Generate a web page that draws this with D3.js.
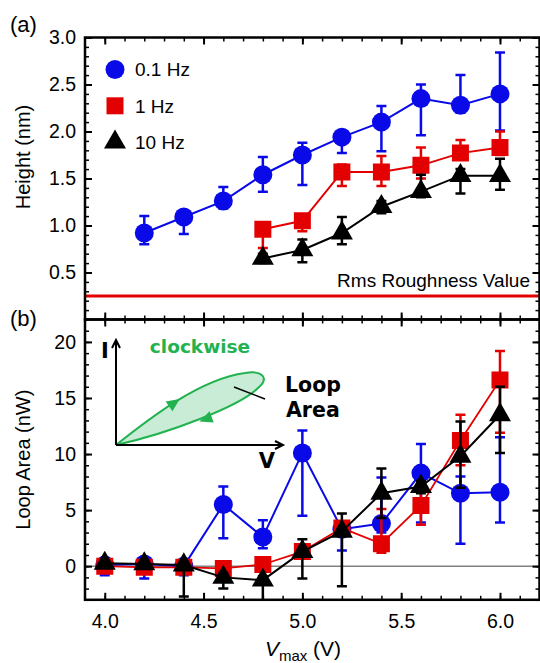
<!DOCTYPE html>
<html>
<head>
<meta charset="utf-8">
<script src="https://cdn.jsdelivr.net/npm/d3@7"></script>
<style>
  body { margin: 0; background: #fff; }
  svg { display: block; font-family: 'Liberation Sans', Arial, sans-serif; }
</style>
</head>
<body>
<svg id="chart" width="540" height="663"></svg>
<script>
// --- data ---
const vmax01Hz = [4.2, 4.4, 4.6, 4.8, 5.0, 5.2, 5.4, 5.6, 5.8, 6.0]
const vmax1Hz = [4.8, 5.0, 5.2, 5.4, 5.6, 5.8, 6.0]
const vmaxLoop = [4.0, 4.2, 4.4, 4.6, 4.8, 5.0, 5.2, 5.4, 5.6, 5.8, 6.0]

// (a) height (nm)
const height01 = [0.92, 1.09, 1.26, 1.54, 1.75, 1.94, 2.10, 2.35, 2.28, 2.40]
const height01Hi = [1.10, 1.15, 1.41, 1.73, 1.88, 2.00, 2.27, 2.50, 2.60, 2.84]
const height01Lo = [0.80, 0.91, 1.18, 1.36, 1.43, 1.77, 1.79, 1.96, 2.20, 2.01]
const height1 = [0.96, 1.05, 1.57, 1.57, 1.64, 1.77, 1.83]
const height1Hi = [1.02, 1.10, 1.65, 1.74, 1.83, 1.91, 2.00]
const height1Lo = [0.76, 0.94, 1.42, 1.42, 1.50, 1.70, 1.75]
const height10 = [0.65, 0.74, 0.92, 1.20, 1.36, 1.53, 1.53]
const height10Hi = [0.70, 0.85, 1.09, 1.26, 1.54, 1.60, 1.71]
const height10Lo = [0.60, 0.61, 0.80, 1.13, 1.30, 1.34, 1.38]
const rmsRoughness = 0.25

// (b) loop area (nW)
const loop01 = [0.1, 0.2, 0.0, 5.5, 2.6, 10.1, 3.3, 3.8, 8.3, 6.5, 6.6]
const loop01Hi = [0.5, 0.6, 0.5, 7.1, 4.1, 12.1, 4.0, 7.9, 10.9, 8.0, 11.5]
const loop01Lo = [-0.8, -1.1, -0.8, 2.5, 1.6, 4.5, 1.4, 3.0, 3.9, 2.0, 3.9]
const loop1 = [0.0, -0.1, -0.1, -0.2, 0.15, 1.3, 3.4, 2.0, 5.4, 11.2, 16.6]
const loop1Hi = [0.3, 0.3, 0.3, 0.3, 0.5, 1.8, 4.0, 5.1, 7.0, 13.5, 19.2]
const loop1Lo = [-0.4, -0.6, -0.5, -0.6, -0.2, 0.8, 2.8, 1.2, 3.7, 9.0, 11.9]
const loop10 = [0.25, 0.2, 0.1, -1.0, -1.25, 1.3, 3.1, 6.5, 7.1, 9.8, 13.5]
const loop10Hi = [0.5, 0.5, 0.4, -0.6, -0.9, 2.4, 4.7, 8.7, 7.6, 12.9, 16.0]
const loop10Lo = [0.0, -0.1, -2.7, -2.0, -3.5, -1.1, -1.8, 4.3, 6.5, 7.0, 10.1]

// ticks
const vmaxTicks = [4.0, 4.5, 5.0, 5.5, 6.0]
const heightTicks = [0.5, 1.0, 1.5, 2.0, 2.5, 3.0]
const loopTicks = [0, 5, 10, 15, 20]
const legendLabels = ['0.1 Hz', '1 Hz', '10 Hz']

const BLUE = '#0a0ae8'
const RED = '#e30000'
const BLACK = '#000'
const GREEN = '#22b24f'

const svg = d3.select('#chart')
const left = 85
const right = 539.5
const x = d3.scaleLinear().domain([3.9, 6.2]).range([left, right])
const yHeight = d3.scaleLinear().domain([0, 3]).range([319.5, 37.5])
const yLoop = d3.scaleLinear().domain([-3, 22]).range([599.8, 319.5])

const minorX = d3.range(39, 63).map(d => d / 10)
const minorHeight = d3.range(1, 30).map(d => d / 10)
const minorLoop = d3.range(-3, 23)

const fmt1 = d3.format('.1f')

function addAxis(g, axis, tx, ty, values, size, labels) {
  axis.tickValues(values).tickSize(-size)
  if (labels) {
    axis.tickFormat(labels).tickPadding(labels.pad)
  } else {
    axis.tickFormat('')
  }
  const a = g.append('g')
    .attr('transform', `translate(${tx},${ty})`)
    .call(axis)
  a.select('.domain').remove()
  a.selectAll('line').attr('stroke', '#000').attr('stroke-width', size > 5 ? 2 : 1.5)
  a.selectAll('text')
    .attr('fill', '#000')
    .style('font-size', '19.5px')
    .style('font-family', "'Liberation Sans', Arial, sans-serif")
  return a
}

function drawFrame(g, y, majorY, minorY, yFmt, showX) {
  const [yb, yt] = y.range()
  // x ticks on bottom and top, inward
  const xLab = showX ? Object.assign(d => fmt1(d), { pad: 14 }) : null
  const innerX = minorX.filter(d => x(d) > left && x(d) < right)
  addAxis(g, d3.axisBottom(x), 0, yb, innerX, 4)
  addAxis(g, d3.axisBottom(x), 0, yb, vmaxTicks, 7, xLab)
  addAxis(g, d3.axisTop(x), 0, yt, innerX, 4)
  addAxis(g, d3.axisTop(x), 0, yt, vmaxTicks, 7)
  // y ticks left and right
  const yLab = Object.assign(yFmt, { pad: 9 })
  addAxis(g, d3.axisLeft(y), left, 0, minorY, 4)
  addAxis(g, d3.axisLeft(y), left, 0, majorY, 7, yLab)
  addAxis(g, d3.axisRight(y), right, 0, minorY, 4)
  addAxis(g, d3.axisRight(y), right, 0, majorY, 7)
  g.append('rect')
    .attr('x', left)
    .attr('y', yt)
    .attr('width', right - left)
    .attr('height', yb - yt)
    .attr('fill', 'none')
    .attr('stroke', '#000')
    .attr('stroke-width', 2.5)
}

const symbols = {
  circle: d3.symbol().type(d3.symbolCircle).size(Math.PI * 9.5 * 9.5),
  square: d3.symbol().type(d3.symbolSquare).size(17 * 17),
  triangle: d3.symbol().type(d3.symbolTriangle).size(210)
}

function drawSeries(g, y, xs, vals, hi, lo, color, shape, lw) {
  const pts = xs.map((v, i) => ({ x: v, y: vals[i], hi: hi[i], lo: lo[i] }))
  const s = g.append('g')
  s.append('path')
    .datum(pts)
    .attr('d', d3.line().x(d => x(d.x)).y(d => y(d.y)))
    .attr('fill', 'none')
    .attr('stroke', color)
    .attr('stroke-width', lw)
  const eb = s.selectAll('g.err').data(pts).join('g').attr('class', 'err')
    .attr('stroke', color)
    .attr('stroke-width', 2.5)
  eb.append('line')
    .attr('x1', d => x(d.x)).attr('x2', d => x(d.x))
    .attr('y1', d => y(d.lo)).attr('y2', d => y(d.hi))
  eb.append('line')
    .attr('x1', d => x(d.x) - 5).attr('x2', d => x(d.x) + 5)
    .attr('y1', d => y(d.hi)).attr('y2', d => y(d.hi))
  eb.append('line')
    .attr('x1', d => x(d.x) - 5).attr('x2', d => x(d.x) + 5)
    .attr('y1', d => y(d.lo)).attr('y2', d => y(d.lo))
  s.selectAll('path.mk').data(pts).join('path').attr('class', 'mk')
    .attr('d', symbols[shape])
    .attr('transform', d => `translate(${x(d.x)},${y(d.y)})`)
    .attr('fill', color)
}

function clipFor(id, y) {
  const [yb, yt] = y.range()
  svg.append('clipPath').attr('id', id)
    .append('rect')
    .attr('x', left).attr('y', yt)
    .attr('width', right - left).attr('height', yb - yt)
  return svg.append('g').attr('clip-path', `url(#${id})`)
}

// ---------- panel (a) ----------
const gA = clipFor('clipA', yHeight)
gA.append('line')
  .attr('x1', left).attr('x2', right)
  .attr('y1', yHeight(rmsRoughness)).attr('y2', yHeight(rmsRoughness))
  .attr('stroke', RED).attr('stroke-width', 3)
drawSeries(gA, yHeight, vmax01Hz, height01, height01Hi, height01Lo, BLUE, 'circle', 2)
drawSeries(gA, yHeight, vmax1Hz, height1, height1Hi, height1Lo, RED, 'square', 2)
drawSeries(gA, yHeight, vmax1Hz, height10, height10Hi, height10Lo, BLACK, 'triangle', 2)

svg.append('text')
  .attr('x', 530).attr('y', yHeight(rmsRoughness) - 9)
  .attr('text-anchor', 'end')
  .style('font-size', '19px')
  .text('Rms Roughness Value')

// legend
const legend = svg.append('g')
const legendShapes = ['circle', 'square', 'triangle']
const legendColors = [BLUE, RED, BLACK]
legendLabels.forEach((lab, i) => {
  const ly = 69.5 + i * 36.3
  legend.append('path')
    .attr('d', symbols[legendShapes[i]])
    .attr('transform', `translate(115,${ly})`)
    .attr('fill', legendColors[i])
  legend.append('text')
    .attr('x', 135).attr('y', ly)
    .attr('dy', '0.36em')
    .style('font-size', '19px')
    .text(lab)
})

drawFrame(svg.append('g'), yHeight, heightTicks, minorHeight, d => fmt1(d), false)

// ---------- panel (b) ----------
const gB = clipFor('clipB', yLoop)
gB.append('line')
  .attr('x1', left).attr('x2', right)
  .attr('y1', yLoop(0)).attr('y2', yLoop(0))
  .attr('stroke', '#808080').attr('stroke-width', 1.5)
drawSeries(gB, yLoop, vmaxLoop, loop01, loop01Hi, loop01Lo, BLUE, 'circle', 2)
drawSeries(gB, yLoop, vmaxLoop, loop1, loop1Hi, loop1Lo, RED, 'square', 1.8)
drawSeries(gB, yLoop, vmaxLoop, loop10, loop10Hi, loop10Lo, BLACK, 'triangle', 2)

// inset sketch of the I-V loop
const inset = svg.append('g').attr('transform', 'translate(116,445)')
inset.append('path')
  .attr('d', 'M0,0 C34,-27 84,-66 129,-72 C148,-75 153,-66 142,-57 C124,-39 54,-12 0,0 Z')
  .attr('fill', '#c8ecd6')
  .attr('stroke', GREEN)
  .attr('stroke-width', 2)
const arrowTri = 'M7,0 L-6,-6 L-6,6 Z'
inset.append('path').attr('d', arrowTri).attr('fill', GREEN)
  .attr('transform', 'translate(58,-42) rotate(-35)')
inset.append('path').attr('d', arrowTri).attr('fill', GREEN)
  .attr('transform', 'translate(90,-26) rotate(160)')
inset.append('line')
  .attr('x1', 118).attr('y1', -58).attr('x2', 149).attr('y2', -46)
  .attr('stroke', '#000').attr('stroke-width', 1.5)
inset.append('path')
  .attr('d', 'M0,0 L0,-105 M-4,-97 L0,-105 L4,-97 M0,0 L167,0 M159,-4 L167,0 L159,4')
  .attr('fill', 'none')
  .attr('stroke', '#000')
  .attr('stroke-width', 2)
const insetFont = "'DejaVu Sans', sans-serif"
inset.append('text').attr('x', -11).attr('y', -87)
  .attr('text-anchor', 'middle')
  .style('font-family', insetFont).style('font-weight', 'bold').style('font-size', '21px')
  .text('I')
inset.append('text').attr('x', 151).attr('y', 23)
  .attr('text-anchor', 'middle')
  .style('font-family', insetFont).style('font-weight', 'bold').style('font-size', '21px')
  .text('V')
inset.append('text').attr('x', 84).attr('y', -92)
  .attr('text-anchor', 'middle')
  .attr('fill', GREEN)
  .style('font-family', insetFont).style('font-weight', 'bold').style('font-size', '18.5px')
  .text('clockwise')
inset.append('text').attr('x', 169).attr('y', -53)
  .style('font-family', insetFont).style('font-weight', 'bold').style('font-size', '20.5px')
  .text('Loop')
inset.append('text').attr('x', 170).attr('y', -28)
  .style('font-family', insetFont).style('font-weight', 'bold').style('font-size', '20.5px')
  .text('Area')

drawFrame(svg.append('g'), yLoop, loopTicks, minorLoop, d => d3.format('d')(d), true)

// ---------- labels ----------
svg.append('text').attr('x', 10).attr('y', 32)
  .style('font-size', '22px').text('(a)')
svg.append('text').attr('x', 10).attr('y', 326)
  .style('font-size', '22px').text('(b)')

svg.append('text')
  .attr('transform', 'translate(30,157) rotate(-90)')
  .attr('text-anchor', 'middle')
  .style('font-size', '20px')
  .text('Height (nm)')
svg.append('text')
  .attr('transform', `translate(30,${(yLoop(22) + yLoop(-3)) / 2}) rotate(-90)`)
  .attr('text-anchor', 'middle')
  .style('font-size', '20px')
  .text('Loop Area (nW)')

const xt = svg.append('text')
  .attr('x', 303).attr('y', 656)
  .attr('text-anchor', 'middle')
  .style('font-size', '21px')
xt.append('tspan').style('font-style', 'italic').text('V')
xt.append('tspan').attr('dy', 5).style('font-size', '15px').text('max')
xt.append('tspan').attr('dy', -5).text(' (V)')
</script>
</body>
</html>
